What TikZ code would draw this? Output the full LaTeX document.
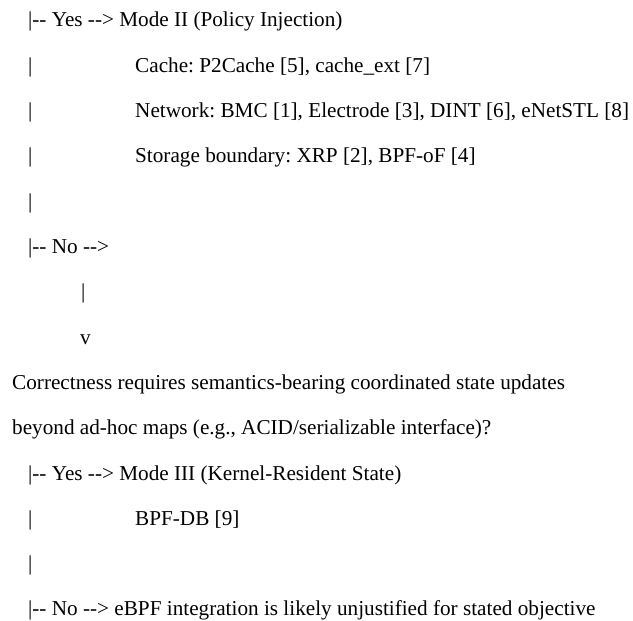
\documentclass[tikz,border=0pt]{standalone}
\usepackage{fontspec}
\newfontfamily\treefont{Liberation Serif}
\usepackage{tikz}
\frenchspacing

\begin{document}
\begin{tikzpicture}[x=1pt, y=-1pt,
  every node/.style={font=\treefont\fontsize{21.2}{25}\selectfont, inner sep=0pt, anchor=base west},
  line/.style={}]
  \useasboundingbox (0,0) rectangle (633,621);
  % first branch: policy injection
  \node[line] (yesA)   at (28,27)    {|-- Yes --> Mode II (Policy Injection)};
  \node[line] (barA1)  at (28,72.3)  {|};
  \node[line] (cache)  at (135,72.3) {Cache: P2Cache [5], cache\_ext [7]};
  \node[line] (barA2)  at (28,117.6) {|};
  \node[line] (net)    at (135,117.6) {Network: BMC [1], Electrode [3], DINT [6], eNetSTL [8]};
  \node[line] (barA3)  at (28,162.9) {|};
  \node[line] (stor)   at (135,162.9) {Storage boundary: XRP [2], BPF-oF [4]};
  \node[line] (barA4)  at (28,208.2) {|};
  \node[line] (noA)    at (28,253.5) {|-- No -->};
  \node[line] (down)   at (81,298.8) {|};
  \node[line] (vee)    at (80,344.1) {v};
  % second question
  \node[line] (qtop)   at (12,389.4) {Correctness requires semantics-bearing coordinated state updates};
  \node[line] (qbot)   at (12,434.7) {beyond ad-hoc maps (e.g., ACID/serializable interface)?};
  \node[line] (yesB)   at (28,480)   {|-- Yes --> Mode III (Kernel-Resident State)};
  \node[line] (barB1)  at (28,525.3) {|};
  \node[line] (bpfdb)  at (135,525.3) {BPF-DB [9]};
  \node[line] (barB2)  at (28,570.6) {|};
  \node[line] (noB)    at (28,615.9) {|-- No --> eBPF integration is likely unjustified for stated objective};
\end{tikzpicture}
\end{document}
